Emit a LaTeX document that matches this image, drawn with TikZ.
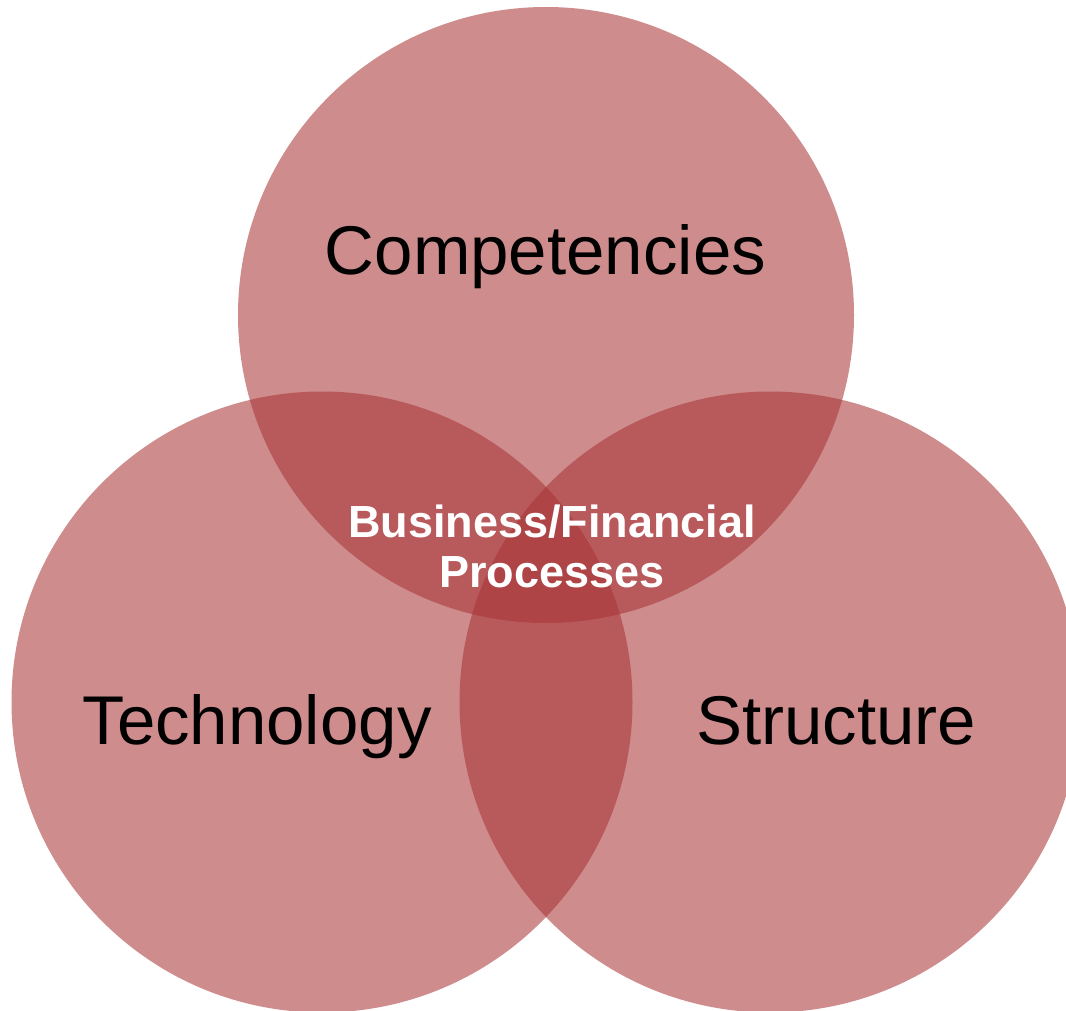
\documentclass[tikz,border=0pt]{standalone}
\usepackage{fontspec}
\setmainfont{Liberation Sans}
\definecolor{vennred}{RGB}{168,52,55}
\begin{document}
\begin{tikzpicture}[x=1pt,y=-1pt,
  venn/.style={circle, draw=none, fill=vennred, fill opacity=0.57, inner sep=0pt, minimum size=#1},
  biglabel/.style={anchor=base, inner sep=0pt, text=black, font=\fontsize{69}{80}\selectfont},
  midlabel/.style={anchor=base, inner sep=0pt, text=white, font=\fontsize{45}{50}\selectfont\bfseries}]
  \useasboundingbox (0,0) rectangle (1066,1011);
  \clip (0,0) rectangle (1066,1011);
  \node[venn=616pt] (comp) at (546,315) {};
  \node[venn=621pt] (tech) at (322,702) {};
  \node[venn=621pt] (struc) at (770,702) {};
  \node[biglabel] (lcomp) at (545.5,274) {Competencies};
  \node[biglabel] (ltech) at (257,744) {Technology};
  \node[biglabel] (lstruc) at (836,744) {Structure};
  \node[midlabel] (lbus1) at (552,537) {Business/Financial};
  \node[midlabel] (lbus2) at (552,587) {Processes};
\end{tikzpicture}
\end{document}
